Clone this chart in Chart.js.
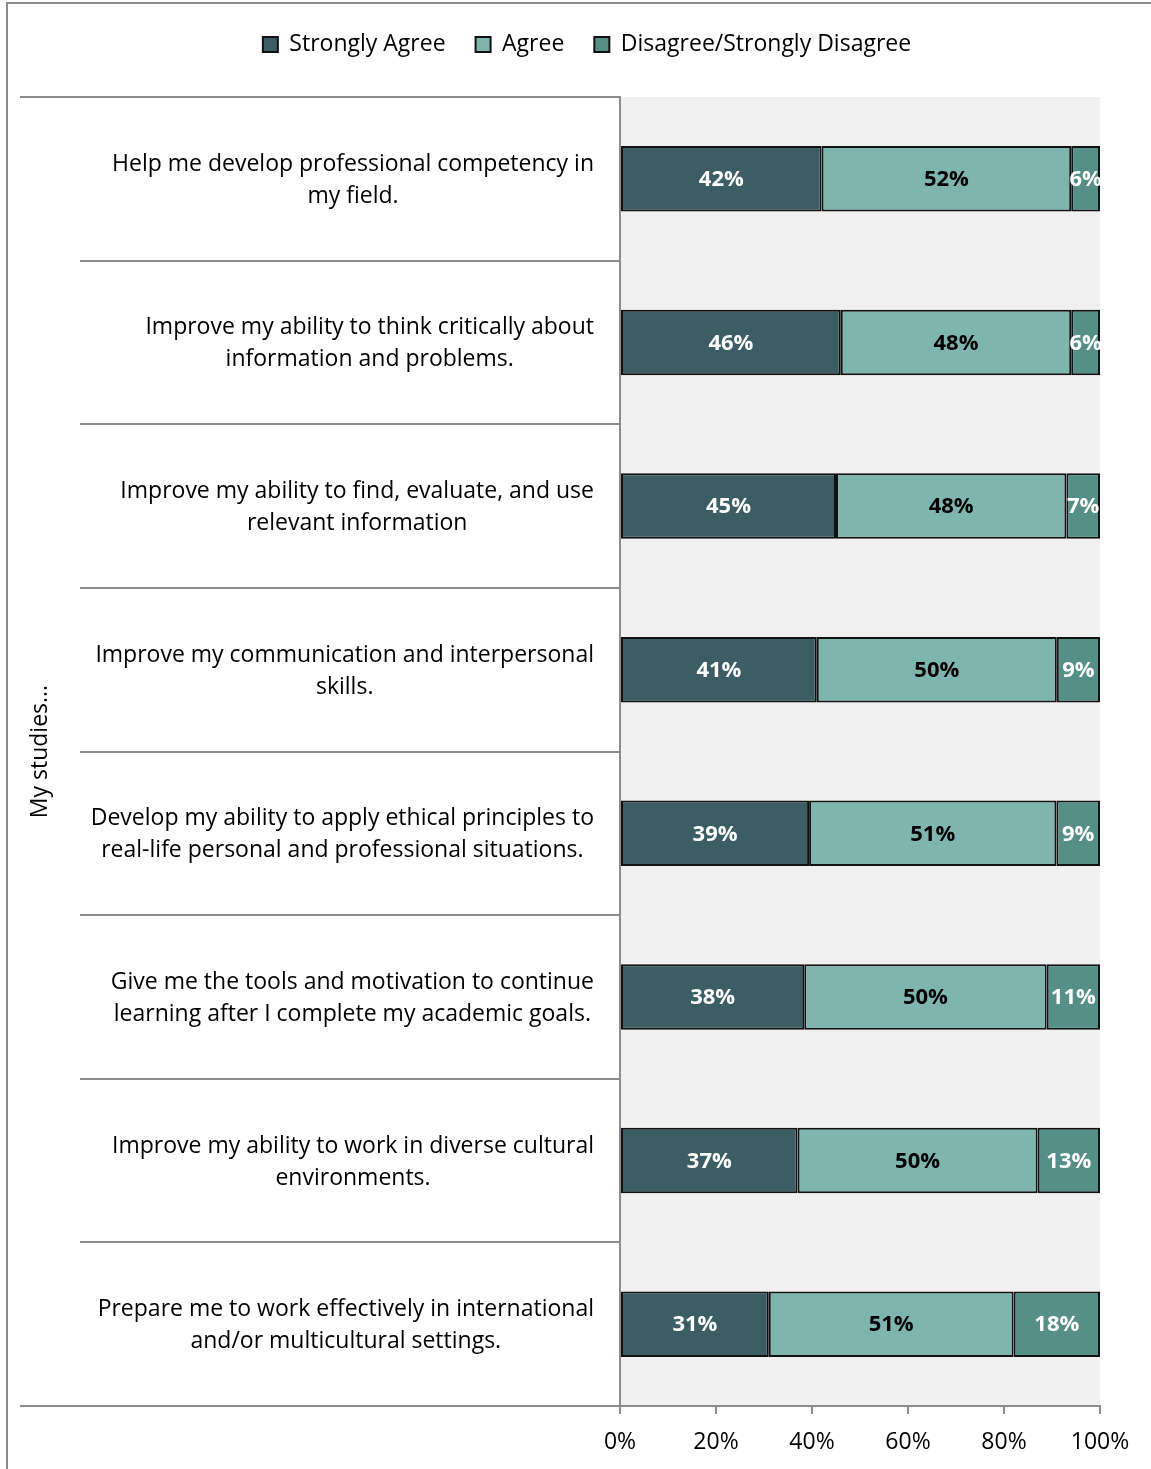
<!DOCTYPE html>
<html>
<head>
<meta charset="utf-8">
<script src="https://cdn.jsdelivr.net/npm/chart.js@4.4.1/dist/chart.umd.min.js"></script>
<style>
  html, body { margin: 0; padding: 0; background: #fff; }
  #wrap { width: 1151px; height: 1469px; }
</style>
</head>
<body>
<div id="wrap"><canvas id="studies"></canvas></div>
<script>
const categories = [
    ['Help me develop professional competency in', 'my field.'],
    ['Improve my ability to think critically about', 'information and problems.'],
    ['Improve my ability to find, evaluate, and use', 'relevant information'],
    ['Improve my communication and interpersonal', 'skills.'],
    ['Develop my ability to apply ethical principles to', 'real-life personal and professional situations.'],
    ['Give me the tools and motivation to continue', 'learning after I complete my academic goals.'],
    ['Improve my ability to work in diverse cultural', 'environments.'],
    ['Prepare me to work effectively in international', 'and/or multicultural settings.']
];
const stronglyAgree = [42, 46, 45, 41, 39, 38, 37, 31];
const agree = [52, 48, 48, 50, 51, 50, 50, 51];
const disagree = [6, 6, 7, 9, 9, 11, 13, 18];
const xTicks = [0, 20, 40, 60, 80, 100];
const axisTitle = 'My studies...';

const FONT = '"Open Sans"';
const raw = [stronglyAgree, agree, disagree];
// 100% stacked: each row is scaled to its own total
const totals = stronglyAgree.map((v, i) => v + agree[i] + disagree[i]);
const share = arr => arr.map((v, i) => v / totals[i] * 100);

// extra room under the legend, and centre it over the whole canvas
const legendGap = {
    id: 'legendGap',
    beforeInit(chart) {
        const legend = chart.legend;
        const fit = legend.fit;
        legend.fit = function () {
            fit.bind(legend)();
            this.height += 31;
        };
        const draw = legend.draw;
        legend.draw = function () {
            const dx = 587 - (legend.left + legend.right) / 2;
            chart.ctx.save();
            chart.ctx.translate(dx, 0);
            draw.bind(legend)();
            chart.ctx.restore();
        };
    }
};

const frame = {
    id: 'frame',
    beforeDraw(chart) {
        const { ctx, chartArea: a } = chart;
        ctx.save();
        ctx.fillStyle = '#f0f0f0';
        ctx.fillRect(a.left, a.top, a.right - a.left, a.bottom - a.top);
        ctx.strokeStyle = '#8c8c8c';
        ctx.lineWidth = 2;
        ctx.beginPath();
        ctx.moveTo(7, chart.height);
        ctx.lineTo(7, 3);
        ctx.lineTo(chart.width, 3);
        ctx.stroke();

        // category separators and labels
        const y = chart.scales.y;
        ctx.beginPath();
        ctx.moveTo(20, a.top); ctx.lineTo(a.left, a.top);
        ctx.moveTo(20, a.bottom); ctx.lineTo(a.left, a.bottom);
        for (let i = 0; i < categories.length - 1; i++) {
            const yy = Math.round((y.getPixelForValue(i) + y.getPixelForValue(i + 1)) / 2);
            ctx.moveTo(80, yy); ctx.lineTo(a.left, yy);
        }
        ctx.stroke();

        ctx.fillStyle = '#000';
        ctx.font = '23px ' + FONT;
        ctx.textAlign = 'center';
        ctx.textBaseline = 'middle';
        categories.forEach((lines, i) => {
            const cy = y.getPixelForValue(i) + 1.5;
            const w = Math.max(...lines.map(l => ctx.measureText(l).width));
            const cx = a.left - 26 - w / 2;
            lines.forEach((l, k) => {
                ctx.fillText(l, cx, cy + (k - (lines.length - 1) / 2) * 32);
            });
        });

        ctx.translate(40, (a.top + a.bottom) / 2);
        ctx.rotate(-Math.PI / 2);
        ctx.fillText(axisTitle, 0, 0);
        ctx.restore();
    }
};

const valueLabels = {
    id: 'valueLabels',
    afterDatasetsDraw(chart) {
        const { ctx, chartArea: a } = chart;
        ctx.save();
        ctx.beginPath();
        ctx.rect(a.left, a.top, a.right - a.left, a.bottom - a.top);
        ctx.clip();
        ctx.font = 'bold 22px ' + FONT;
        ctx.textAlign = 'center';
        ctx.textBaseline = 'middle';
        chart.data.datasets.forEach((ds, d) => {
            ctx.fillStyle = d === 1 ? '#000' : '#fff';
            chart.getDatasetMeta(d).data.forEach((bar, i) => {
                const cx = (bar.x + bar.base) / 2;
                ctx.fillText(raw[d][i] + '%', cx, bar.y + 1);
            });
        });
        ctx.restore();
    }
};

new Chart(document.getElementById('studies'), {
    type: 'bar',
    data: {
        labels: categories,
        datasets: [{
            label: 'Strongly Agree',
            data: share(stronglyAgree),
            backgroundColor: '#3b5d63'
        }, {
            label: 'Agree',
            data: share(agree),
            backgroundColor: '#7fb5af'
        }, {
            label: 'Disagree/Strongly Disagree',
            data: share(disagree),
            backgroundColor: '#558f87'
        }]
    },
    options: {
        indexAxis: 'y',
        responsive: true,
        maintainAspectRatio: false,
        animation: false,
        datasets: {
            bar: {
                borderColor: '#111',
                borderWidth: 2,
                borderSkipped: false,
                categoryPercentage: 1,
                barPercentage: 0.4
            }
        },
        layout: {
            padding: { top: 3, left: 20, right: 51, bottom: 0 }
        },
        scales: {
            x: {
                stacked: true,
                min: 0,
                max: 100,
                afterBuildTicks(scale) {
                    scale.ticks = xTicks.map(v => ({ value: v }));
                },
                afterFit(scale) { scale.height = 63; },
                grid: {
                    drawOnChartArea: false,
                    tickLength: 8,
                    color: '#8c8c8c',
                    lineWidth: 2
                },
                border: { color: '#8c8c8c', width: 2 },
                ticks: {
                    callback: v => v + '%',
                    color: '#000',
                    padding: 15,
                    font: { family: FONT, size: 23 }
                }
            },
            y: {
                stacked: true,
                afterFit(scale) { scale.width = 600; },
                grid: { display: false },
                border: { color: '#8c8c8c', width: 2 },
                ticks: { display: false }
            }
        },
        plugins: {
            legend: {
                position: 'top',
                labels: {
                    boxWidth: 15,
                    boxHeight: 15,
                    padding: 30,
                    color: '#000',
                    font: { family: FONT, size: 23 }
                }
            },
            tooltip: { enabled: false }
        }
    },
    plugins: [legendGap, frame, valueLabels]
});
</script>
</body>
</html>
